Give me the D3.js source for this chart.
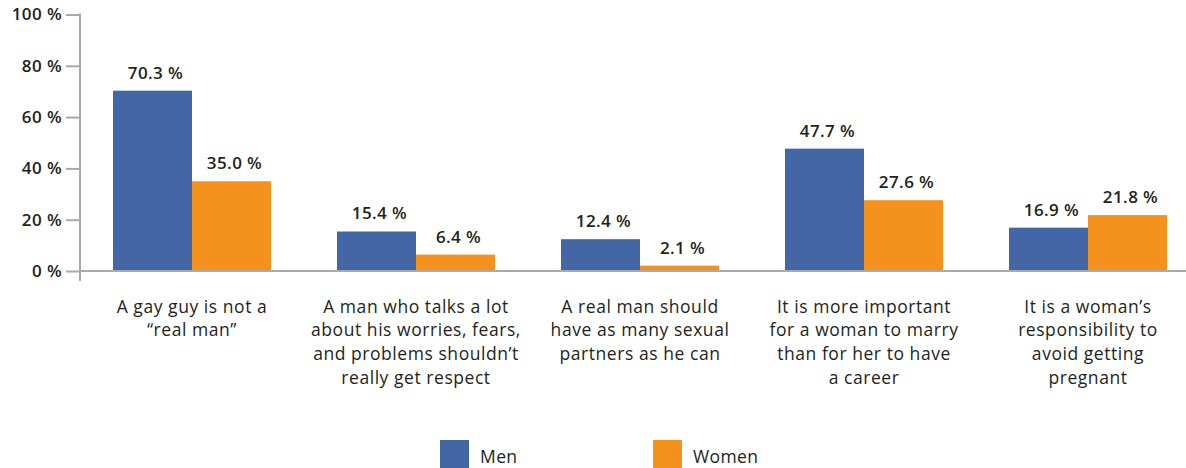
<!DOCTYPE html>
<html>
<head>
<meta charset="utf-8">
<script src="https://cdn.jsdelivr.net/npm/d3@7"></script>
<style>
  html, body { margin: 0; padding: 0; background: #ffffff; }
  svg { display: block; }
  text { font-family: "Open Sans", "Noto Sans", sans-serif; fill: #231f20; }
</style>
</head>
<body>
<svg id="chart" width="1186" height="468"></svg>
<script>
// Survey statements (wrapped lines for the category labels)
const categories = [
  "A gay guy is not a\n\u201creal man\u201d",
  "A man who talks a lot\nabout his worries, fears,\nand problems shouldn\u2019t\nreally get respect",
  "A real man should\nhave as many sexual\npartners as he can",
  "It is more important\nfor a woman to marry\nthan for her to have\na career",
  "It is a woman\u2019s\nresponsibility to\navoid getting\npregnant"
];
const seriesNames = ["Men", "Women"];
const menValues = [70.3, 15.4, 12.4, 47.7, 16.9];
const womenValues = [35.0, 6.4, 2.1, 27.6, 21.8];
const yTicks = [0, 20, 40, 60, 80, 100];
const colors = ["#4367a5", "#f5921e"];

const svg = d3.select("#chart");
const W = 1186;

const x0 = d3.scaleBand()
  .domain(categories)
  .range([47, 1233])
  .paddingInner(0.2946)
  .paddingOuter(0.2946);

const x1 = d3.scaleBand()
  .domain(seriesNames)
  .range([0, x0.bandwidth()]);

const y = d3.scaleLinear().domain([0, 100]).range([271, 14.5]);

const axisColor = "#a7a9ac";

// Y axis
const yAxis = d3.axisLeft(y)
  .tickValues(yTicks)
  .tickSize(14)
  .tickSizeOuter(0)
  .tickPadding(4)
  .tickFormat(d => d + " %");

const gy = svg.append("g")
  .attr("transform", "translate(80,0)")
  .call(yAxis);
gy.select(".domain").remove();
gy.selectAll(".tick line").attr("stroke", axisColor).attr("stroke-width", 2);
gy.selectAll(".tick text")
  .style("font-size", "17px")
  .style("font-weight", 600)
  .style("letter-spacing", "0.4px")
  .style("fill", "#231f20");

// Vertical axis line running slightly past the baseline
svg.append("line")
  .attr("x1", 80).attr("x2", 80)
  .attr("y1", y(100) - 1).attr("y2", y(0) + 10)
  .attr("stroke", axisColor).attr("stroke-width", 2);

// Grouped bars
const rows = categories.map((c, i) => ({
  cat: c,
  vals: [
    { key: seriesNames[0], v: menValues[i] },
    { key: seriesNames[1], v: womenValues[i] }
  ]
}));

const groups = svg.append("g").selectAll("g")
  .data(rows)
  .join("g")
  .attr("transform", d => `translate(${x0(d.cat)},0)`);

groups.selectAll("rect")
  .data(d => d.vals)
  .join("rect")
  .attr("x", d => x1(d.key))
  .attr("y", d => y(d.v))
  .attr("width", x1.bandwidth())
  .attr("height", d => y(0) - y(d.v))
  .attr("fill", (d, i) => colors[i]);

groups.selectAll("text.val")
  .data(d => d.vals)
  .join("text")
  .attr("class", "val")
  .attr("x", d => x1(d.key) + x1.bandwidth() / 2 + 3)
  .attr("y", d => y(d.v) - 12)
  .attr("text-anchor", "middle")
  .style("font-size", "17px")
  .style("font-weight", 600)
  .style("letter-spacing", "0.4px")
  .text(d => d.v.toFixed(1) + " %");

// Baseline
svg.append("line")
  .attr("x1", 80).attr("x2", W)
  .attr("y1", y(0)).attr("y2", y(0))
  .attr("stroke", axisColor).attr("stroke-width", 2);

// Category labels
const catLabels = svg.append("g").selectAll("text")
  .data(categories)
  .join("text")
  .attr("x", d => x0(d) + x0.bandwidth() / 2)
  .attr("y", 312.5)
  .attr("text-anchor", "middle")
  .style("font-size", "17.5px")
  .style("font-weight", 500)
  .style("letter-spacing", "0.55px");

catLabels.selectAll("tspan")
  .data(d => d.split("\n"))
  .join("tspan")
  .attr("x", function () { return d3.select(this.parentNode).attr("x"); })
  .attr("dy", (d, i) => i === 0 ? 0 : 23.8)
  .text(d => d);

// Legend
const legendX = [440, 653];
const legend = svg.append("g").selectAll("g")
  .data(seriesNames)
  .join("g")
  .attr("transform", (d, i) => `translate(${legendX[i]},440)`);

legend.append("rect")
  .attr("width", 29).attr("height", 28)
  .attr("fill", (d, i) => colors[i]);

legend.append("text")
  .attr("x", 40).attr("y", 22.5)
  .style("font-size", "17.5px")
  .style("font-weight", 500)
  .style("letter-spacing", "0.4px")
  .text(d => d);
</script>
</body>
</html>
